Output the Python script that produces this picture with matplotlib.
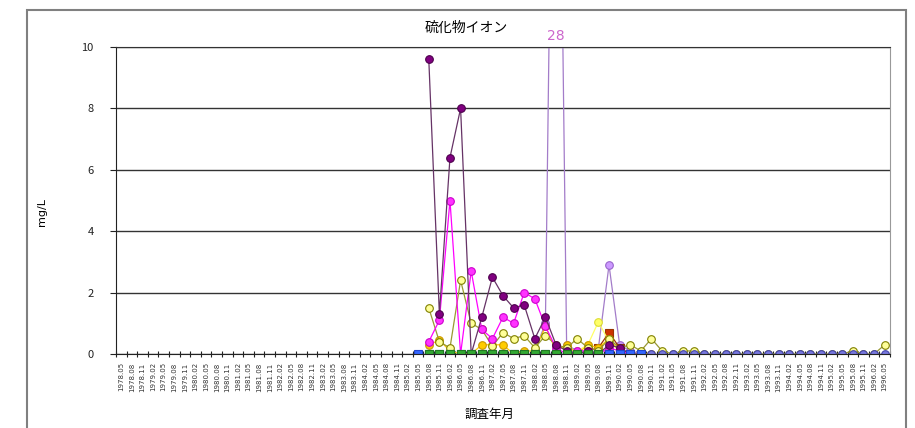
import numpy as np
import matplotlib
matplotlib.use('Agg')
import matplotlib.pyplot as plt
from matplotlib.patches import Rectangle

plt.rcParams['font.family'] = ['Noto Sans CJK JP', 'DejaVu Sans']

nan = np.nan

# survey dates (category axis)
dates = [
    '1978.05', '1978.08', '1978.11', '1979.02', '1979.05', '1979.08', '1979.11', '1980.02',
    '1980.05', '1980.08', '1980.11', '1981.02', '1981.05', '1981.08', '1981.11', '1982.02',
    '1982.05', '1982.08', '1982.11', '1983.02', '1983.05', '1983.08', '1983.11', '1984.02',
    '1984.05', '1984.08', '1984.11', '1985.02', '1985.05', '1985.08', '1985.11', '1986.02',
    '1986.05', '1986.08', '1986.11', '1987.02', '1987.05', '1987.08', '1987.11', '1988.02',
    '1988.05', '1988.08', '1988.11', '1989.02', '1989.05', '1989.08', '1989.11', '1990.02',
    '1990.05', '1990.08', '1990.11', '1991.02', '1991.05', '1991.08', '1991.11', '1992.02',
    '1992.05', '1992.08', '1992.11', '1993.02', '1993.05', '1993.08', '1993.11', '1994.02',
    '1994.05', '1994.08', '1994.11', '1995.02', '1995.05', '1995.08', '1995.11', '1996.02',
    '1996.05',
]
first_survey = 28  # measurements start here

# values (mg/L), one per survey from first_survey on
st_blue = [0.0, 0.0, 0.0, 0.0, 0.0, 0.0, 0.0, 0.0, 0.0, 0.0, 0.0, 0.0, 0.0, 0.0, 0.0,
           0.0, 0.0, 0.0, 0.0, 0.0, 0.0, 0.0, nan, nan, nan, nan, nan, nan, nan, nan,
           nan, nan, nan, nan, nan, nan, nan, nan, nan, nan, nan, nan, nan, nan, nan]
st_violet = [nan, nan, nan, nan, nan, nan, nan, nan, nan, nan, nan, nan, nan, nan, nan,
             nan, nan, 0.0, 0.0, 0.0, 0.0, 0.0, 0.0, 0.0, 0.0, 0.0, 0.0, 0.0, 0.0, 0.0,
             0.0, 0.0, 0.0, 0.0, 0.0, 0.0, 0.0, 0.0, 0.0, 0.0, 0.0, 0.0, 0.0, 0.0, 0.0]
st_green = [nan, 0.0, 0.0, 0.0, 0.0, 0.0, 0.0, 0.0, 0.0, 0.0, 0.0, 0.0, 0.0, 0.0, 0.0,
            0.0, 0.0, 0.0, nan, nan, nan, nan, nan, nan, nan, nan, nan, nan, nan, nan,
            nan, nan, nan, nan, nan, nan, nan, nan, nan, nan, nan, nan, nan, nan, nan]
st_dark = [nan, 9.6, 1.3, 6.4, 8.0, 0.0, 1.2, 2.5, 1.9, 1.5, 1.6, 0.5, 1.2, 0.3, 0.1,
           0.0, 0.1, 0.0, 0.3, 0.2, 0.0, 0.0, nan, nan, nan, nan, nan, nan, nan, nan,
           nan, nan, nan, nan, nan, nan, nan, nan, nan, nan, nan, nan, nan, nan, nan]
st_magenta = [nan, 0.4, 1.1, 5.0, 0.0, 2.7, 0.8, 0.5, 1.2, 1.0, 2.0, 1.8, 0.9, 0.2, 0.0,
              0.1, 0.1, 0.0, 0.2, 0.1, 0.0, nan, nan, nan, nan, nan, nan, nan, nan, nan,
              nan, nan, nan, nan, nan, nan, nan, nan, nan, nan, nan, nan, nan, nan, nan]
st_olive = [nan, 1.5, 0.4, 0.2, 2.4, 1.0, 0.8, 0.25, 0.7, 0.5, 0.6, 0.2, 0.6, 0.3, 0.2,
            0.5, 0.2, 0.1, 0.5, 0.2, 0.3, 0.1, 0.5, 0.1, 0.0, 0.1, 0.1, 0.0, 0.0, 0.0,
            0.0, 0.0, 0.0, 0.0, 0.0, 0.0, 0.0, 0.0, 0.0, 0.0, 0.0, 0.1, 0.0, 0.0, 0.3]
st_yellow = [nan, 0.3, 0.45, 0.1, 0.0, 0.0, 0.3, 0.3, 0.3, 0.0, 0.1, 0.1, 0.9, 0.1, 0.3,
             0.0, 0.3, 0.2, 0.5, 0.1, 0.0, 0.0, 0.0, nan, nan, nan, nan, nan, nan, nan,
             nan, nan, nan, nan, nan, nan, nan, nan, nan, nan, nan, nan, nan, nan, nan]
st_lightyellow = [nan, nan, nan, nan, nan, nan, nan, nan, nan, nan, nan, nan, nan, nan, 0.2,
                  0.1, 0.3, 1.05, 0.4, 0.1, 0.0, nan, nan, nan, nan, nan, nan, nan, nan, nan,
                  nan, nan, nan, nan, nan, nan, nan, nan, nan, nan, nan, nan, nan, nan, nan]
st_lilac = [nan, nan, nan, nan, nan, nan, nan, nan, nan, nan, nan, 0.1, 1.0, 28.0, 0.3,
            0.1, 0.1, 0.2, 2.9, 0.3, 0.1, 0.0, nan, nan, nan, nan, nan, nan, nan, nan,
            nan, nan, nan, nan, nan, nan, nan, nan, nan, nan, nan, nan, nan, nan, nan]
st_brown = [nan, nan, nan, nan, nan, nan, nan, nan, nan, nan, nan, nan, nan, nan, 0.0,
            0.0, 0.1, 0.2, 0.7, 0.2, 0.0, nan, nan, nan, nan, nan, nan, nan, nan, nan,
            nan, nan, nan, nan, nan, nan, nan, nan, nan, nan, nan, nan, nan, nan, nan]

# (values, line colour, marker face, marker edge, marker) - later ones drawn on top
series = [
    (st_lilac, '#a37cc9', '#cc99ff', '#9966cc', 'o'),
    (st_brown, '#993300', '#cc3300', '#993300', 's'),
    (st_lightyellow, '#ffff66', '#ffff66', '#dddd33', 'o'),
    (st_yellow, '#ffcc00', '#ffcc00', '#cc9900', 'o'),
    (st_olive, '#999933', '#ffff99', '#808000', 'o'),
    (st_magenta, '#ff00ff', '#ff33ff', '#cc00cc', 'o'),
    (st_dark, '#663366', '#800080', '#4d004d', 'o'),
    (st_violet, '#6666cc', '#7777dd', '#4444aa', 'o'),
    (st_blue, '#3366ff', '#3366ff', '#2244cc', 's'),
    (st_green, '#339933', '#33aa33', '#227722', 's'),
]

fig = plt.figure(figsize=(9.15, 4.28), dpi=100)
ax = fig.add_axes([116 / 915, 1 - 354 / 428, 774 / 915, 307 / 428])

x_all = np.arange(len(dates))
x = x_all[first_survey:]
for vals, lc, fc, ec, mk in series:
    ax.plot(x, vals, color=lc, lw=0.9, marker=mk, markersize=5.5,
            markerfacecolor=fc, markeredgecolor=ec, markeredgewidth=0.8)

# label for the off-scale value
i_max = int(np.nanargmax(st_lilac))
ax.text(x[i_max], 10.35, '28', color='#cc66cc', fontsize=10, ha='center', va='center',
        family='DejaVu Sans', clip_on=False)

ax.set_ylim(0, 10)
ax.set_xlim(-0.5, len(dates) - 0.5)
ax.set_yticks([0, 2, 4, 6, 8, 10])
ax.yaxis.grid(True, color='#333333', lw=1.0)
ax.set_axisbelow(True)
ax.tick_params(axis='y', labelsize=8, length=4, direction='out', colors='#222222', pad=12)

ax.set_xticks(np.arange(len(dates) + 1) - 0.5)
ax.set_xticklabels([])
ax.tick_params(axis='x', which='major', length=4, direction='inout', color='#222222')
ax.set_xticks(x_all, minor=True)
ax.set_xticklabels(dates, minor=True, rotation=90, fontsize=5, family='DejaVu Sans',
                   color='#333333')
ax.tick_params(axis='x', which='minor', length=0, pad=6)

for s in ['left', 'bottom']:
    ax.spines[s].set_color('#222222')
ax.spines['top'].set_color('#333333')
ax.spines['right'].set_color('#999999')

fig.text(466 / 915, 1 - 28 / 428, '硫化物イオン', ha='center', va='center', fontsize=10)
fig.text(42 / 915, 1 - 212 / 428, 'mg/L', ha='center', va='center', rotation=90,
         fontsize=8, family='DejaVu Sans')
fig.text(490 / 915, 1 - 414 / 428, '調査年月', ha='center', va='center', fontsize=9)

fig.patches.append(Rectangle((27 / 915, -0.05), (906 - 27) / 915, (428 - 10) / 428 + 0.05,
                             transform=fig.transFigure, fill=False,
                             edgecolor='#808080', lw=1.5))

fig.savefig('out.png', dpi=100)
